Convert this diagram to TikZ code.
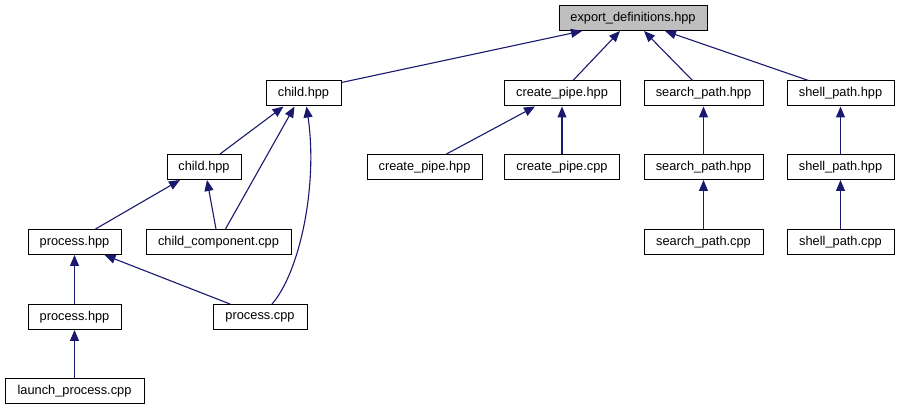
\documentclass[tikz,border=0pt]{standalone}
\usepackage{fontspec}
\setmainfont{Liberation Sans}
\usetikzlibrary{arrows.meta}
\definecolor{edgecol}{RGB}{25,25,112}
\definecolor{rootfill}{RGB}{191,191,191}
\begin{document}
\begin{tikzpicture}[x=1pt,y=-1pt,
  box/.style={draw=black,line width=1pt,fill=white,minimum height=25pt,inner sep=0pt,
              font=\fontsize{12.8}{14}\selectfont},
  edge/.style={draw=edgecol,line width=1.1pt,-{Triangle[length=11pt,width=9pt]}}]
\useasboundingbox (0,0) rectangle (900,411);
\fill[white] (0,0) rectangle (900,411);
% nodes
\node[box,fill=rootfill,minimum width=148pt] (exp) at (633,18) {export\_definitions.hpp};
\node[box,minimum width=75pt]  (ch1) at (303.5,93.5) {child.hpp};
\node[box,minimum width=116pt] (cp1) at (562,93.5) {create\_pipe.hpp};
\node[box,minimum width=119pt] (sp1) at (703.5,93.5) {search\_path.hpp};
\node[box,minimum width=107pt] (sh1) at (840.5,93.5) {shell\_path.hpp};
\node[box,minimum width=74pt]  (ch2) at (204,167) {child.hpp};
\node[box,minimum width=115pt] (cp2) at (424.5,167) {create\_pipe.hpp};
\node[box,minimum width=115pt] (cpc) at (562,167) {create\_pipe.cpp};
\node[box,minimum width=119pt] (sp2) at (703.5,167) {search\_path.hpp};
\node[box,minimum width=107pt] (sh2) at (840.5,167) {shell\_path.hpp};
\node[box,minimum width=93pt]  (ph1) at (74.5,242) {process.hpp};
\node[box,minimum width=145pt] (cc)  at (218.5,242) {child\_component.cpp};
\node[box,minimum width=119pt] (spc) at (703.5,242) {search\_path.cpp};
\node[box,minimum width=107pt] (shc) at (840.5,242) {shell\_path.cpp};
\node[box,minimum width=93pt]  (ph2) at (74.5,317) {process.hpp};
\node[box,minimum width=94pt]  (pc)  at (260,317) {process.cpp};
\node[box,minimum width=139pt] (lp)  at (74.5,391.5) {launch\_process.cpp};
% edges
\draw[edge] ([yshift=-2pt]ch1.north east) -- ([xshift=-51pt]exp.south);
\draw[edge] ([xshift=11pt]cp1.north) -- ([xshift=-13pt]exp.south);
\draw[edge] ([xshift=-11pt]sp1.north) -- ([xshift=11pt]exp.south);
\draw[edge] ([xshift=-32pt]sh1.north) -- ([xshift=32pt]exp.south);
\draw[edge] ([xshift=16pt]ch2.north) -- ([xshift=-20pt]ch1.south);
\draw[edge] ([xshift=7pt]cc.north) -- ([xshift=-9pt]ch1.south);
\draw[edge] ([xshift=12pt]pc.north) .. controls (300,272) and (318,185) .. ([xshift=3pt]ch1.south);
\draw[edge] ([xshift=22pt]cp2.north) -- ([xshift=-27pt]cp1.south);
\draw[edge] (cpc.north) -- (cp1.south);
\draw[edge] (sp2.north) -- (sp1.south);
\draw[edge] (spc.north) -- (sp2.south);
\draw[edge] (sh2.north) -- (sh1.south);
\draw[edge] (shc.north) -- (sh2.south);
\draw[edge] ([xshift=21pt]ph1.north) -- ([xshift=-24pt]ch2.south);
\draw[edge] ([xshift=-2.5pt]cc.north) -- ([xshift=3pt]ch2.south);
\draw[edge] ([xshift=-30pt]pc.north) -- ([xshift=30pt]ph1.south);
\draw[edge] (ph2.north) -- (ph1.south);
\draw[edge] (lp.north) -- (ph2.south);
\end{tikzpicture}
\end{document}
